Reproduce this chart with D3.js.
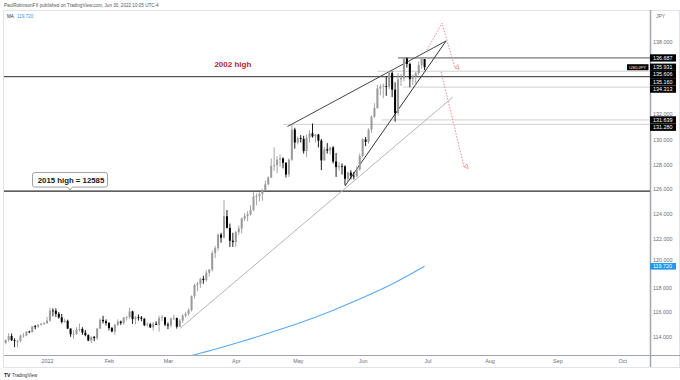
<!DOCTYPE html>
<html><head><meta charset="utf-8">
<script src="https://cdn.jsdelivr.net/npm/d3@7"></script>
<style>
html,body{margin:0;padding:0;background:#fff;}
svg{display:block;font-family:"Liberation Sans",Arial,sans-serif;}
</style></head><body>
<svg id="chart" width="680" height="380"></svg>
<script>
// ---- DATA (USDJPY daily) ----
// [date, open, high, low, close]
const candles = [
["2021-12-14",113.49,113.76,113.37,113.72],["2021-12-15",113.72,114.27,113.58,114.04],["2021-12-16",114.04,114.25,113.64,113.71],["2021-12-17",113.70,113.86,113.14,113.69],
["2021-12-20",113.60,113.75,113.14,113.64],["2021-12-21",113.64,114.18,113.54,114.08],["2021-12-22",114.08,114.30,113.90,114.09],["2021-12-23",114.09,114.42,114.03,114.41],["2021-12-24",114.41,114.48,114.28,114.36],
["2021-12-27",114.36,114.86,114.35,114.84],["2021-12-28",114.84,114.94,114.60,114.83],["2021-12-29",114.83,115.00,114.70,114.96],["2021-12-30",114.96,115.07,114.90,115.06],["2021-12-31",115.06,115.18,114.96,115.08],
["2022-01-03",115.08,115.60,115.05,115.30],["2022-01-04",115.30,116.35,115.20,116.12],["2022-01-05",116.12,116.30,115.65,116.10],["2022-01-06",116.10,116.30,115.60,115.85],["2022-01-07",115.85,116.00,115.46,115.56],
["2022-01-10",115.56,115.85,115.06,115.20],["2022-01-11",115.20,115.46,115.13,115.28],["2022-01-12",115.28,115.38,114.62,114.65],["2022-01-13",114.65,114.67,113.98,114.19],["2022-01-14",114.19,114.52,113.81,114.20],
["2022-01-17",114.20,114.77,114.15,114.58],["2022-01-18",114.58,115.06,114.40,114.62],["2022-01-19",114.62,114.76,114.15,114.32],["2022-01-20",114.32,114.54,114.02,114.12],["2022-01-21",114.12,114.18,113.63,113.68],
["2022-01-24",113.68,114.00,113.47,113.98],["2022-01-25",113.98,114.04,113.62,113.87],["2022-01-26",113.87,114.70,113.73,114.65],["2022-01-27",114.65,115.47,114.62,115.36],["2022-01-28",115.36,115.69,115.07,115.25],
["2022-01-31",115.25,115.40,114.90,115.11],["2022-02-01",115.11,115.17,114.50,114.70],["2022-02-02",114.70,114.78,114.35,114.41],["2022-02-03",114.41,115.05,114.15,114.95],["2022-02-04",114.95,115.40,114.85,115.22],
["2022-02-07",115.22,115.30,114.95,115.10],["2022-02-08",115.10,115.60,114.98,115.55],["2022-02-09",115.55,115.65,115.30,115.58],["2022-02-10",115.58,116.34,115.45,116.05],["2022-02-11",116.05,116.10,115.03,115.42],
["2022-02-14",115.42,115.70,114.98,115.58],["2022-02-15",115.58,115.80,115.30,115.55],["2022-02-16",115.55,115.68,115.25,115.45],["2022-02-17",115.45,115.50,114.85,114.93],["2022-02-18",114.93,115.15,114.80,115.00],
["2022-02-21",115.00,115.12,114.70,114.75],["2022-02-22",114.75,115.20,114.50,115.05],["2022-02-23",115.05,115.25,114.95,114.95],["2022-02-24",114.95,115.70,114.40,115.50],["2022-02-25",115.50,115.76,115.25,115.56],
["2022-02-28",115.56,115.60,114.85,114.98],["2022-03-01",114.98,115.15,114.60,114.90],["2022-03-02",114.90,115.55,114.75,115.47],["2022-03-03",115.47,115.80,115.35,115.50],["2022-03-04",115.50,115.55,114.65,114.80],
["2022-03-07",114.80,115.45,114.78,115.30],["2022-03-08",115.30,115.82,115.10,115.70],["2022-03-09",115.70,116.00,115.55,115.85],["2022-03-10",115.85,116.30,115.70,116.15],["2022-03-11",116.15,117.35,116.05,117.30],
["2022-03-14",117.30,118.30,117.10,118.20],["2022-03-15",118.20,118.45,117.70,118.30],["2022-03-16",118.30,118.80,117.95,118.70],["2022-03-17",118.70,118.95,118.30,118.60],["2022-03-18",118.60,119.40,118.45,119.20],
["2022-03-21",119.20,119.50,118.90,119.45],["2022-03-22",119.45,121.00,119.30,120.80],["2022-03-23",120.80,121.40,120.40,121.20],["2022-03-24",121.20,122.40,121.00,122.30],["2022-03-25",122.30,122.45,121.65,122.05],
["2022-03-28",122.05,125.10,122.00,123.80],["2022-03-29",123.80,124.30,122.80,122.85],["2022-03-30",122.85,123.20,121.30,121.80],["2022-03-31",121.80,122.45,121.30,121.70],["2022-04-01",121.70,122.60,121.30,122.50],
["2022-04-04",122.50,123.05,122.30,122.80],["2022-04-05",122.80,123.70,122.40,123.60],["2022-04-06",123.60,124.05,123.40,123.80],["2022-04-07",123.80,124.20,123.40,123.95],["2022-04-08",123.95,124.70,123.85,124.30],
["2022-04-11",124.30,125.75,124.20,125.40],["2022-04-12",125.40,125.65,124.70,125.45],["2022-04-13",125.45,125.75,125.00,125.60],["2022-04-14",125.60,126.00,125.05,125.90],["2022-04-15",125.90,126.70,125.90,126.40],
["2022-04-18",126.40,127.05,126.30,126.95],["2022-04-19",126.95,128.50,126.90,127.90],["2022-04-20",127.90,129.40,127.50,127.95],["2022-04-21",127.95,128.70,127.30,128.40],["2022-04-22",128.40,128.85,127.80,128.50],
["2022-04-25",128.50,128.60,127.70,128.15],["2022-04-26",128.15,128.20,126.95,127.20],["2022-04-27",127.20,128.50,127.00,128.40],["2022-04-28",128.40,131.25,128.30,130.85],["2022-04-29",130.85,131.00,129.30,129.80],
["2022-05-02",129.80,130.30,129.65,130.15],["2022-05-03",130.15,130.40,129.80,130.10],["2022-05-04",130.10,130.35,128.90,129.10],["2022-05-05",129.10,130.45,128.60,130.20],["2022-05-06",130.20,130.80,129.80,130.55],
["2022-05-09",130.55,131.35,130.20,130.30],["2022-05-10",130.30,130.50,129.80,130.45],["2022-05-11",130.45,130.50,129.40,129.95],["2022-05-12",129.95,130.10,127.55,128.35],["2022-05-13",128.35,129.45,128.30,129.25],
["2022-05-16",129.25,129.75,128.90,129.15],["2022-05-17",129.15,129.45,128.80,129.40],["2022-05-18",129.40,129.50,128.10,128.25],["2022-05-19",128.25,128.95,127.00,127.80],["2022-05-20",127.80,128.20,127.50,127.90],
["2022-05-23",127.90,128.10,127.20,127.85],["2022-05-24",127.85,127.95,126.35,126.85],["2022-05-25",126.85,127.45,126.55,127.35],["2022-05-26",127.35,127.55,126.80,127.10],["2022-05-27",127.10,127.40,126.80,127.05],
["2022-05-30",127.05,127.85,127.00,127.60],["2022-05-31",127.60,128.90,127.50,128.70],["2022-06-01",128.70,130.15,128.60,130.05],["2022-06-02",130.05,130.25,129.50,129.85],["2022-06-03",129.85,130.95,129.70,130.85],
["2022-06-06",130.85,132.00,130.60,131.90],["2022-06-07",131.90,133.00,131.80,132.60],["2022-06-08",132.60,134.50,132.55,134.20],["2022-06-09",134.20,134.55,133.65,134.35],["2022-06-10",134.35,134.60,133.40,134.40],
["2022-06-13",134.40,135.20,133.60,134.35],["2022-06-14",134.35,135.60,134.15,135.45],["2022-06-15",135.45,135.60,133.50,134.10],["2022-06-16",134.10,134.70,131.50,132.20],["2022-06-17",132.20,135.45,132.00,134.95],
["2022-06-20",134.95,135.40,134.40,135.05],["2022-06-21",135.05,136.70,134.80,136.65],["2022-06-22",136.65,136.71,135.90,136.20],["2022-06-23",136.20,136.30,134.30,134.95],["2022-06-24",134.95,135.35,134.50,135.20],
["2022-06-27",135.20,135.55,134.50,135.45],["2022-06-28",135.45,136.40,135.30,136.10],["2022-06-29",136.10,136.70,135.80,136.60],["2022-06-30",136.60,136.55,135.70,135.93]
];
// 200-day moving average (bar index, value)
const maIdx = [63, 70, 80, 90, 100, 110, 120, 130, 142];
const maVal = [112.45, 112.9, 113.6, 114.35, 115.15, 116.05, 117.05, 118.15, 119.72];

const priceTicks = [114,116,118,120,122,124,126,128,130,132,134,136,138];
const timeTickIdx = [14,35,55,78,99,121,143,164,187,209];
const timeTickLabels = ["2022","Feb","Mar","Apr","May","Jun","Jul","Aug","Sep","Oct"];

// horizontal level rays (price, starting bar index)
const rayPrices = [136.687, 135.606, 134.313, 131.639, 131.280];
const rayStartIdx = [133, 126, 134.5, 127.5, 94];
const rayDark = [true, false, false, false, false];
const high2015 = 125.85;
const high2002 = 135.16;

// trend lines: [idx1, price1, idx2, price2]
const wedgeUpper = [95.5, 131.1, 149.3, 138.07];
const wedgeLower = [115, 126.26, 149.3, 138.07];
const longTrend = [59.1, 114.67, 151.6, 133.5];
// red projection paths: list of [idx, price]
const proj1 = [[142.8,137.33],[147.9,139.53],[152.3,135.87]];
const proj2 = [[147.6,135.54],[155.4,127.80]];

const axisLabelPrices = [136.687, 135.931, 135.606, 135.160, 134.313, 131.639, 131.280];
const lastPrice = 135.931;
const maLast = 119.720;

// ---- CHART ----
const svg = d3.select("#chart");
const P = {l:4, r:650, t:10, b:355};
const x = d3.scaleLinear().domain([0,220]).range([5.7, 5.7+220*2.95]);
const y = d3.scaleLinear().domain([112.5,140.59]).range([P.b, P.t]);

svg.append("defs").append("clipPath").attr("id","clip")
  .append("rect").attr("x",P.l).attr("y",P.t).attr("width",P.r-P.l).attr("height",P.b-P.t);
const mk = svg.select("defs").append("marker").attr("id","arr").attr("viewBox","0 0 10 10")
  .attr("refX",5).attr("refY",9).attr("markerWidth",6).attr("markerHeight",6).attr("orient","auto-start-reverse");
mk.append("path").attr("d","M1,3 L5,9 L9,3 Z").attr("fill","none").attr("stroke","#ef8a8a").attr("stroke-width",1.2);

// header
svg.append("text").attr("x",4).attr("y",6.5).attr("font-size",4.6).attr("fill","#555")
  .text("PaulRobinsonFX published on TradingView.com, Jun 30, 2022 10:05 UTC-4");

// frame
svg.append("rect").attr("x",3.5).attr("y",10.5).attr("width",676).attr("height",357)
  .attr("fill","none").attr("stroke","#e0e3eb").attr("stroke-width",1);
svg.append("line").attr("x1",P.l).attr("x2",680).attr("y1",P.b+0.5).attr("y2",P.b+0.5).attr("stroke","#a3a6af");
svg.append("line").attr("x1",P.r+0.5).attr("x2",P.r+0.5).attr("y1",P.t).attr("y2",367).attr("stroke","#a3a6af").attr("stroke-width",1.5);

// MA legend
const lg = svg.append("text").attr("x",7).attr("y",17.5).attr("font-size",4.6);
lg.append("tspan").attr("fill","#333").text("MA ");
lg.append("tspan").attr("fill","#2196f3").attr("dx",2).text(d3.format(".3f")(maLast));

const g = svg.append("g").attr("clip-path","url(#clip)");

// full horizontal lines
[high2002, high2015].forEach((p,i)=>{
  g.append("line").attr("x1",P.l).attr("x2",P.r).attr("y1",y(p)).attr("y2",y(p))
   .attr("stroke","#2a2a2a").attr("stroke-width", i===1?1.3:1);
});
// rays
rayPrices.forEach((p,i)=>{
  g.append("line").attr("x1",x(rayStartIdx[i])).attr("x2",P.r).attr("y1",y(p)).attr("y2",y(p))
   .attr("stroke", rayDark[i] ? "#555" : "#cfcfcf").attr("stroke-width",1);
});

// MA
g.append("path").datum(maIdx.map((d,i)=>[d,maVal[i]]))
  .attr("d", d3.line().x(d=>x(d[0])).y(d=>y(d[1])).curve(d3.curveMonotoneX))
  .attr("fill","none").attr("stroke","#5aa9f2").attr("stroke-width",1.1);

// trend lines
function tl(a, color, w){
  g.append("line").attr("x1",x(a[0])).attr("y1",y(a[1])).attr("x2",x(a[2])).attr("y2",y(a[3]))
   .attr("stroke",color).attr("stroke-width",w);
}
tl(longTrend,"#b5b5b5",1);
tl(wedgeUpper,"#444",1);
tl(wedgeLower,"#333",1);

// candles
const cg = g.append("g");
candles.forEach((c,i)=>{
  const [d,o,h,l,cl] = c;
  const up = cl >= o;
  const col = up ? "#9a9a9a" : "#000";
  const cx = x(i);
  cg.append("line").attr("x1",cx).attr("x2",cx).attr("y1",y(h)).attr("y2",y(l)).attr("stroke",col).attr("stroke-width",0.9);
  const top = y(Math.max(o,cl)), bot = y(Math.min(o,cl));
  cg.append("rect").attr("x",cx-1).attr("width",2).attr("y",top).attr("height",Math.max(0.8,bot-top)).attr("fill",col);
});

// red projections
[proj1, proj2].forEach(p=>{
  g.append("path").datum(p).attr("d", d3.line().x(d=>x(d[0])).y(d=>y(d[1])))
   .attr("fill","none").attr("stroke","#ef8a8a").attr("stroke-width",1).attr("stroke-dasharray","1.5,1.5")
   .attr("marker-end","url(#arr)");
});

// annotations
svg.append("text").attr("x",x(77)).attr("y",y(136.19)).attr("dy","0.35em").attr("text-anchor","middle")
  .attr("font-size",8).attr("font-weight","bold").attr("fill","#b3262b").text("2002 high");

const ax = x(21.8), ay = y(high2015);
const cb = svg.append("g");
cb.append("path").attr("d",`M${ax-35.5},${ay-18.5} h71 a2,2 0 0 1 2,2 v10.5 a2,2 0 0 1 -2,2 h-33 l-2.5,3 l-2.5,-3 h-33 a2,2 0 0 1 -2,-2 v-10.5 a2,2 0 0 1 2,-2 z`)
  .attr("fill","#fff").attr("stroke","#8a8a8a").attr("stroke-width",0.8);
cb.append("text").attr("x",ax+1).attr("y",ay-11.2).attr("dy","0.35em").attr("text-anchor","middle")
  .attr("font-size",7.8).attr("font-weight","600").attr("fill","#131722").text("2015 high = 12585");

// axis label boxes (stacked) — compute first so tick labels can avoid them
const boxes = [];
let prev = -1e9;
const bh = 7.3;
axisLabelPrices.forEach(p=>{
  const cy = Math.max(y(p), prev + bh);
  prev = cy;
  boxes.push({p, cy, top: cy-bh/2, bot: cy+bh/2, fill:"#000"});
});
boxes.push({p:maLast, cy:y(maLast), top:y(maLast)-3.3, bot:y(maLast)+3.3, fill:"#2196f3"});

// price axis
const pa = svg.append("g").attr("transform",`translate(${P.r},0)`)
  .call(d3.axisRight(y).tickValues(priceTicks).tickFormat(d3.format(".3f")).tickSize(0).tickPadding(3));
pa.select(".domain").remove();
pa.selectAll("text").attr("font-size",5.4).attr("fill","#6a6d78").attr("font-family","Liberation Sans, Arial, sans-serif");
pa.selectAll(".tick").each(function(d){
  const cy = y(d);
  const hit = boxes.find(b => cy + 2.8 > b.top && cy - 2.8 < b.bot);
  if (!hit) return;
  if (cy >= hit.top && cy <= hit.bot) { d3.select(this).remove(); return; }
  // nudge the label just above the box (TradingView shows it half covered)
  d3.select(this).select("text").attr("y", hit.top - 3 - cy);
});
svg.append("text").attr("x",656).attr("y",17.5).attr("font-size",5).attr("fill","#6a6d78").text("JPY");

// time axis
const ta = svg.append("g").attr("transform",`translate(0,${P.b})`)
  .call(d3.axisBottom(x).tickValues(timeTickIdx).tickFormat((d,i)=>timeTickLabels[i]).tickSize(0).tickPadding(4));
ta.select(".domain").remove();
ta.selectAll("text").attr("font-size",5.4).attr("fill","#6a6d78").attr("font-family","Liberation Sans, Arial, sans-serif");

// draw boxes
boxes.forEach(b=>{
  svg.append("rect").attr("x",P.r).attr("y",b.top).attr("width",26).attr("height",b.bot-b.top).attr("fill",b.fill);
  svg.append("text").attr("x",P.r+3).attr("y",b.cy).attr("dy","0.35em").attr("font-size",5.4).attr("fill","#fff")
    .text(d3.format(".3f")(b.p));
});
// USDJPY tag
svg.append("rect").attr("x",627).attr("y",y(lastPrice)-3).attr("width",21.5).attr("height",6).attr("fill","#000");
svg.append("text").attr("x",637.75).attr("y",y(lastPrice)).attr("dy","0.35em").attr("text-anchor","middle")
  .attr("font-size",4.3).attr("fill","#fff").text("USDJPY");

// TradingView logo
svg.append("text").attr("x",4).attr("y",377).attr("font-size",5).attr("font-weight","bold").attr("fill","#131722").text("TV");
svg.append("text").attr("x",12).attr("y",377).attr("font-size",4.6).attr("fill","#333").text("TradingView");
</script>
</body></html>
